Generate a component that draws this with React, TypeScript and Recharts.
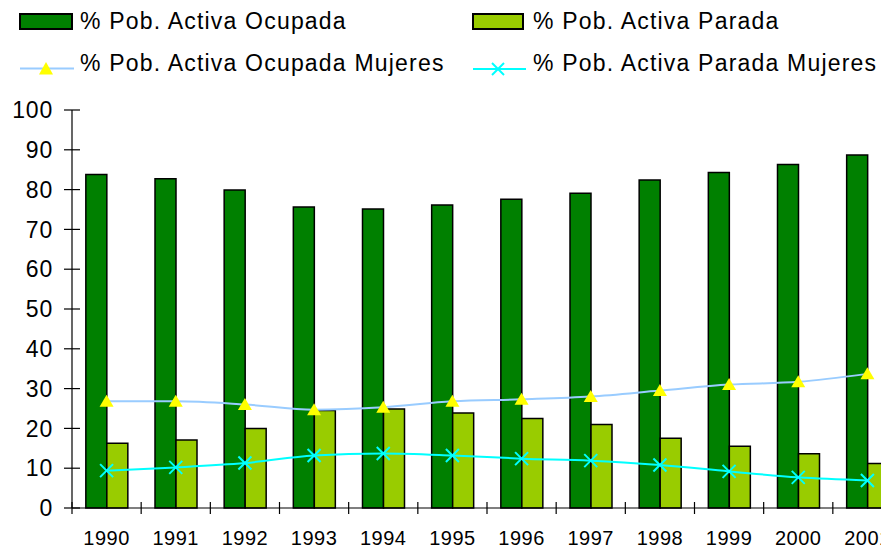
import React from 'react';
import { ComposedChart, Bar, Line, XAxis, YAxis } from 'recharts';

const categories = ['1990', '1991', '1992', '1993', '1994', '1995', '1996', '1997', '1998', '1999', '2000', '2001'];
const ocupada = [83.8, 82.7, 79.9, 75.6, 75.1, 76.1, 77.6, 79.1, 82.4, 84.3, 86.3, 88.7];
const parada = [16.3, 17.1, 20.0, 24.5, 24.9, 23.9, 22.5, 21.0, 17.5, 15.5, 13.6, 11.2];
const ocupadaMujeres = [26.8, 26.8, 26.0, 24.7, 25.3, 26.8, 27.3, 28.0, 29.5, 31.0, 31.7, 33.7];
const paradaMujeres = [9.4, 10.2, 11.3, 13.2, 13.7, 13.2, 12.4, 11.9, 10.8, 9.2, 7.7, 6.9];
const yTicks = [0, 10, 20, 30, 40, 50, 60, 70, 80, 90, 100];

const seriesNames = [
  '% Pob. Activa Ocupada',
  '% Pob. Activa Parada',
  '% Pob. Activa Ocupada Mujeres',
  '% Pob. Activa Parada Mujeres',
];

const data = categories.map((c, i) => ({
  year: c,
  ocupada: ocupada[i],
  parada: parada[i],
  ocupadaMujeres: ocupadaMujeres[i],
  paradaMujeres: paradaMujeres[i],
}));

const CHART_W = 910;
const CHART_H = 548;
const MARGIN = { top: 110, right: 8, left: 0, bottom: 0 };
const Y_W = 72;
const X_H = 40;
const BAND = (CHART_W - MARGIN.right - MARGIN.left - Y_W) / categories.length;

const FONT = '"Liberation Sans", Arial, sans-serif';

const DARK_GREEN = '#008000';
const LIGHT_GREEN = '#99CC00';
const LIGHT_BLUE = '#99CCFF';
const YELLOW = '#FFFF00';
const CYAN = '#00FFFF';

const YTick = (props: any) => {
  const { x, y, payload } = props;
  return (
    <g>
      <line x1={x - 8} x2={x + 8} y1={y} y2={y} stroke="#000" strokeWidth={1.2} />
      <text
        x={x - 19}
        y={y}
        dy="0.36em"
        textAnchor="end"
        fontFamily={FONT}
        fontSize={23}
        letterSpacing={0.8}
        fill="#000"
      >
        {payload.value}
      </text>
    </g>
  );
};

const XTick = (props: any) => {
  const { x, y, payload } = props;
  return (
    <g>
      <line x1={x - BAND / 2} x2={x - BAND / 2} y1={y - 6} y2={y + 6} stroke="#000" strokeWidth={1.2} />
      <text
        x={x}
        y={y + 37}
        textAnchor="middle"
        fontFamily={FONT}
        fontSize={20}
        letterSpacing={0.5}
        fill="#000"
      >
        {payload.value}
      </text>
    </g>
  );
};

const TriangleDot = (props: any) => {
  const { cx, cy, index } = props;
  if (cx == null || cy == null) return <g key={index} />;
  return (
    <polygon
      key={index}
      points={`${cx},${cy - 6.5} ${cx + 7},${cy + 5.5} ${cx - 7},${cy + 5.5}`}
      fill={YELLOW}
    />
  );
};

const CrossDot = (props: any) => {
  const { cx, cy, index } = props;
  if (cx == null || cy == null) return <g key={index} />;
  return (
    <g key={index}>
      <line x1={cx - 6.5} y1={cy - 6.5} x2={cx + 6.5} y2={cy + 6.5} stroke={CYAN} strokeWidth={2} />
      <line x1={cx - 6.5} y1={cy + 6.5} x2={cx + 6.5} y2={cy - 6.5} stroke={CYAN} strokeWidth={2} />
    </g>
  );
};

const Legend2 = () => {
  const textProps = {
    fontFamily: FONT,
    fontSize: 23,
    letterSpacing: 1.2,
    fill: '#000',
  };
  return (
    <svg width={881} height={90} style={{ position: 'absolute', left: 0, top: 0 }}>
      <rect x={20} y={14} width={52} height={15} fill={DARK_GREEN} stroke="#000" strokeWidth={2} />
      <text x={80} y={28.5} {...textProps}>{seriesNames[0]}</text>
      <rect x={473} y={14} width={50} height={15} fill={LIGHT_GREEN} stroke="#000" strokeWidth={2} />
      <text x={533} y={28.5} {...textProps}>{seriesNames[1]}</text>

      <line x1={20} x2={74} y1={68.5} y2={68.5} stroke={LIGHT_BLUE} strokeWidth={2} />
      <polygon points={`46,62 53,74.5 39,74.5`} fill={YELLOW} />
      <text x={80} y={71} {...textProps}>{seriesNames[2]}</text>
      <line x1={473} x2={526} y1={69} y2={69} stroke={CYAN} strokeWidth={2} />
      <line x1={492} y1={63} x2={504} y2={75} stroke={CYAN} strokeWidth={2} />
      <line x1={492} y1={75} x2={504} y2={63} stroke={CYAN} strokeWidth={2} />
      <text x={533} y={71} {...textProps}>{seriesNames[3]}</text>
    </svg>
  );
};

export default function App() {
  return (
    <div
      style={{
        position: 'fixed',
        left: 0,
        top: 0,
        width: 881,
        height: 548,
        overflow: 'hidden',
        background: '#fff',
      }}
    >
      <ComposedChart
        width={CHART_W}
        height={CHART_H}
        data={data}
        margin={MARGIN}
        barCategoryGap="20%"
        barGap={0}
      >
        <XAxis
          dataKey="year"
          interval={0}
          height={X_H}
          tickSize={0}
          tickMargin={0}
          tickLine={false}
          tick={<XTick />}
          axisLine={{ stroke: '#000', strokeWidth: 1.2 }}
        />
        <YAxis
          domain={[0, 100]}
          ticks={yTicks}
          interval={0}
          width={Y_W}
          tickSize={0}
          tickMargin={0}
          tickLine={false}
          tick={<YTick />}
          axisLine={{ stroke: '#000', strokeWidth: 1.2 }}
        />
        <Bar dataKey="ocupada" name={seriesNames[0]} fill={DARK_GREEN} stroke="#000" strokeWidth={1.5} isAnimationActive={false} />
        <Bar dataKey="parada" name={seriesNames[1]} fill={LIGHT_GREEN} stroke="#000" strokeWidth={1.5} isAnimationActive={false} />
        <Line
          type="monotone"
          dataKey="ocupadaMujeres"
          name={seriesNames[2]}
          stroke={LIGHT_BLUE}
          strokeWidth={2}
          dot={TriangleDot}
          activeDot={false}
          isAnimationActive={false}
        />
        <Line
          type="monotone"
          dataKey="paradaMujeres"
          name={seriesNames[3]}
          stroke={CYAN}
          strokeWidth={2}
          dot={CrossDot}
          activeDot={false}
          isAnimationActive={false}
        />
      </ComposedChart>
      <Legend2 />
    </div>
  );
}
